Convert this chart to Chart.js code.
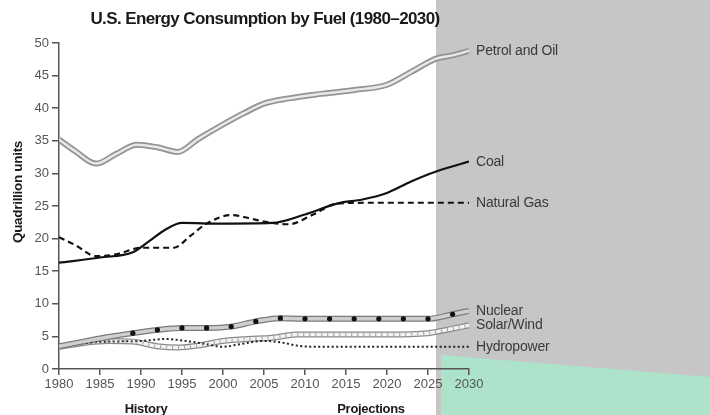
<!DOCTYPE html>
<html>
<head>
<meta charset="utf-8">
<script src="https://cdn.jsdelivr.net/npm/chart.js@4"></script>
<style>
  html, body { margin: 0; padding: 0; background: #fff; }
  #wrap { width: 710px; height: 415px; }
</style>
</head>
<body>
<div id="wrap"><canvas id="energyChart" width="710" height="415"></canvas></div>
<script>
// values (quadrillion units)
const xTicks = [1980, 1985, 1990, 1995, 2000, 2005, 2010, 2015, 2020, 2025, 2030];
const yTicks = [0, 5, 10, 15, 20, 25, 30, 35, 40, 45, 50];

const oilYears = [1980, 1982, 1984.5, 1987, 1989.5, 1992, 1994.5, 1997, 2000, 2002.5, 2005, 2008, 2012, 2016, 2020, 2023, 2026, 2028, 2030];
const oilValues = [35.2, 33.4, 31.5, 33.0, 34.4, 34.0, 33.3, 35.3, 37.5, 39.2, 40.7, 41.5, 42.2, 42.8, 43.6, 45.6, 47.6, 48.1, 48.8];

const coalYears = [1980, 1985, 1989, 1991, 1993, 1995, 2000, 2006, 2010, 2014, 2017, 2020, 2023, 2026, 2030];
const coalValues = [16.3, 17.1, 17.9, 19.6, 21.4, 22.4, 22.3, 22.4, 23.7, 25.4, 26.0, 27.0, 28.8, 30.3, 31.8];

const gasYears = [1980, 1982, 1984.5, 1987, 1990, 1992, 1994, 1996, 1998, 2001, 2003, 2005, 2008, 2011, 2014, 2018, 2030];
const gasValues = [20.2, 19.0, 17.3, 17.6, 18.6, 18.6, 18.6, 20.4, 22.3, 23.6, 23.2, 22.6, 22.2, 23.7, 25.4, 25.5, 25.5];

const nuclearYears = [1980, 1983, 1986, 1989, 1992, 1995, 1998, 2001, 2004, 2007, 2010, 2013, 2016, 2019, 2022, 2025, 2028, 2030];
const nuclearValues = [3.5, 4.2, 4.9, 5.5, 6.0, 6.3, 6.3, 6.5, 7.3, 7.8, 7.7, 7.7, 7.7, 7.7, 7.7, 7.7, 8.4, 8.9];

const solarYears = [1980, 1983, 1986, 1989, 1992, 1994.5, 1997, 2000, 2003, 2006, 2009, 2015, 2020, 2025, 2028, 2030];
const solarValues = [3.4, 4.0, 4.3, 4.2, 3.5, 3.3, 3.6, 4.3, 4.6, 4.8, 5.3, 5.3, 5.3, 5.5, 6.2, 6.7];

const hydroYears = [1980, 1983, 1986, 1990, 1993, 1996, 1998, 2000, 2002, 2005, 2007, 2009, 2011, 2030];
const hydroValues = [3.5, 4.0, 4.2, 4.3, 4.6, 4.2, 3.8, 3.4, 3.8, 4.3, 4.1, 3.6, 3.4, 3.4];

function pts(years, values) {
  return years.map((y, i) => ({ x: y, y: values[i] }));
}

const FONT = '"Liberation Sans", Arial, sans-serif';

// grey/green panel behind the right part of the picture
const backdrop = {
  id: 'backdrop',
  beforeDraw(chart) {
    const c = chart.ctx;
    c.save();
    c.fillStyle = '#c6c6c6';
    c.fillRect(436, 0, 274, 415);
    c.fillStyle = '#aee3cb';
    c.beginPath();
    c.moveTo(441, 355);
    c.lineTo(710, 377);
    c.lineTo(710, 415);
    c.lineTo(441, 415);
    c.closePath();
    c.fill();
    c.restore();
  }
};

const texts = {
  id: 'texts',
  afterDraw(chart) {
    const c = chart.ctx;
    c.save();
    c.fillStyle = '#1a1a1a';
    c.textBaseline = 'middle';

    // title
    c.font = 'bold 17px ' + FONT;
    c.letterSpacing = '-0.6px';
    c.textAlign = 'center';
    c.fillText('U.S. Energy Consumption by Fuel (1980–2030)', 265, 19);

    // y axis title
    c.font = 'bold 13.5px ' + FONT;
    c.letterSpacing = '-0.3px';
    c.save();
    c.translate(18, 192);
    c.rotate(-Math.PI / 2);
    c.fillText('Quadrillion units', 0, 0);
    c.restore();

    // history / projections
    c.font = 'bold 13px ' + FONT;
    c.fillText('History', 146, 409);
    c.fillText('Projections', 371, 409);

    // end labels
    c.letterSpacing = '-0.2px';
    c.font = '14px ' + FONT;
    c.fillStyle = '#3a3a3a';
    c.textAlign = 'left';
    chart.data.datasets.forEach((ds, i) => {
      if (!ds.endLabel) return;
      const meta = chart.getDatasetMeta(i);
      const last = meta.data[meta.data.length - 1];
      c.fillText(ds.endLabel, last.x + 7, last.y);
    });
    c.restore();
  }
};

const base = { fill: false, pointRadius: 0, cubicInterpolationMode: 'monotone' };

new Chart(document.getElementById('energyChart').getContext('2d'), {
  type: 'line',
  data: {
    datasets: [
      // petrol and oil: double grey line
      { ...base, data: pts(oilYears, oilValues), borderColor: '#e8e8e8', borderWidth: 2.5, order: 0, endLabel: 'Petrol and Oil' },
      { ...base, data: pts(oilYears, oilValues), borderColor: '#939393', borderWidth: 6, order: 1 },
      { ...base, data: pts(coalYears, coalValues), borderColor: '#111', borderWidth: 2.2, order: 0, endLabel: 'Coal' },
      { ...base, data: pts(gasYears, gasValues), borderColor: '#111', borderWidth: 2.2, borderDash: [6, 4], order: 0, endLabel: 'Natural Gas' },
      // nuclear: grey band with dots
      { ...base, data: pts(nuclearYears, nuclearValues), borderColor: '#cfcfcf', borderWidth: 3.5, order: 0,
        pointRadius: c => (c.dataIndex < 3 || c.dataIndex === nuclearYears.length - 1) ? 0 : 2.6,
        pointBackgroundColor: '#111', pointBorderWidth: 0, endLabel: 'Nuclear' },
      { ...base, data: pts(nuclearYears, nuclearValues), borderColor: '#7a7a7a', borderWidth: 6, order: 1 },
      // solar/wind: hatched band
      { ...base, data: pts(solarYears, solarValues), borderColor: '#9a9a9a', borderWidth: 3, borderDash: [1, 5], order: 0, endLabel: 'Solar/Wind' },
      { ...base, data: pts(solarYears, solarValues), borderColor: '#f4f4f4', borderWidth: 3.5, order: 1 },
      { ...base, data: pts(solarYears, solarValues), borderColor: '#8a8a8a', borderWidth: 6, order: 2 },
      // hydropower: dotted
      { ...base, data: pts(hydroYears, hydroValues), borderColor: '#222', borderWidth: 2, borderDash: [2, 2.5], order: 0, endLabel: 'Hydropower' }
    ]
  },
  options: {
    responsive: false,
    animation: false,
    events: [],
    layout: { padding: { top: 43, right: 241, left: 0, bottom: 0 } },
    plugins: { legend: { display: false }, tooltip: { enabled: false }, title: { display: false } },
    scales: {
      x: {
        type: 'linear',
        min: 1980,
        max: 2030,
        afterBuildTicks: s => { s.ticks = xTicks.map(v => ({ value: v })); },
        afterFit: s => { s.height = 46; },
        border: { display: true, color: '#555', width: 1.5 },
        grid: { drawOnChartArea: false, drawTicks: true, tickLength: 6, color: '#555', lineWidth: 1.5 },
        ticks: { color: '#555', font: { family: FONT, size: 13 }, padding: 2, maxRotation: 0, autoSkip: false,
          callback: v => String(v) }
      },
      y: {
        min: 0,
        max: 50,
        afterBuildTicks: s => { s.ticks = yTicks.map(v => ({ value: v })); },
        afterFit: s => { s.width = 59; },
        border: { display: true, color: '#555', width: 1.5 },
        grid: { drawOnChartArea: false, drawTicks: true, tickLength: 7, color: '#555', lineWidth: 1.5 },
        ticks: { color: '#555', font: { family: FONT, size: 13 }, padding: 3 }
      }
    }
  },
  plugins: [backdrop, texts]
});
</script>
</body>
</html>
